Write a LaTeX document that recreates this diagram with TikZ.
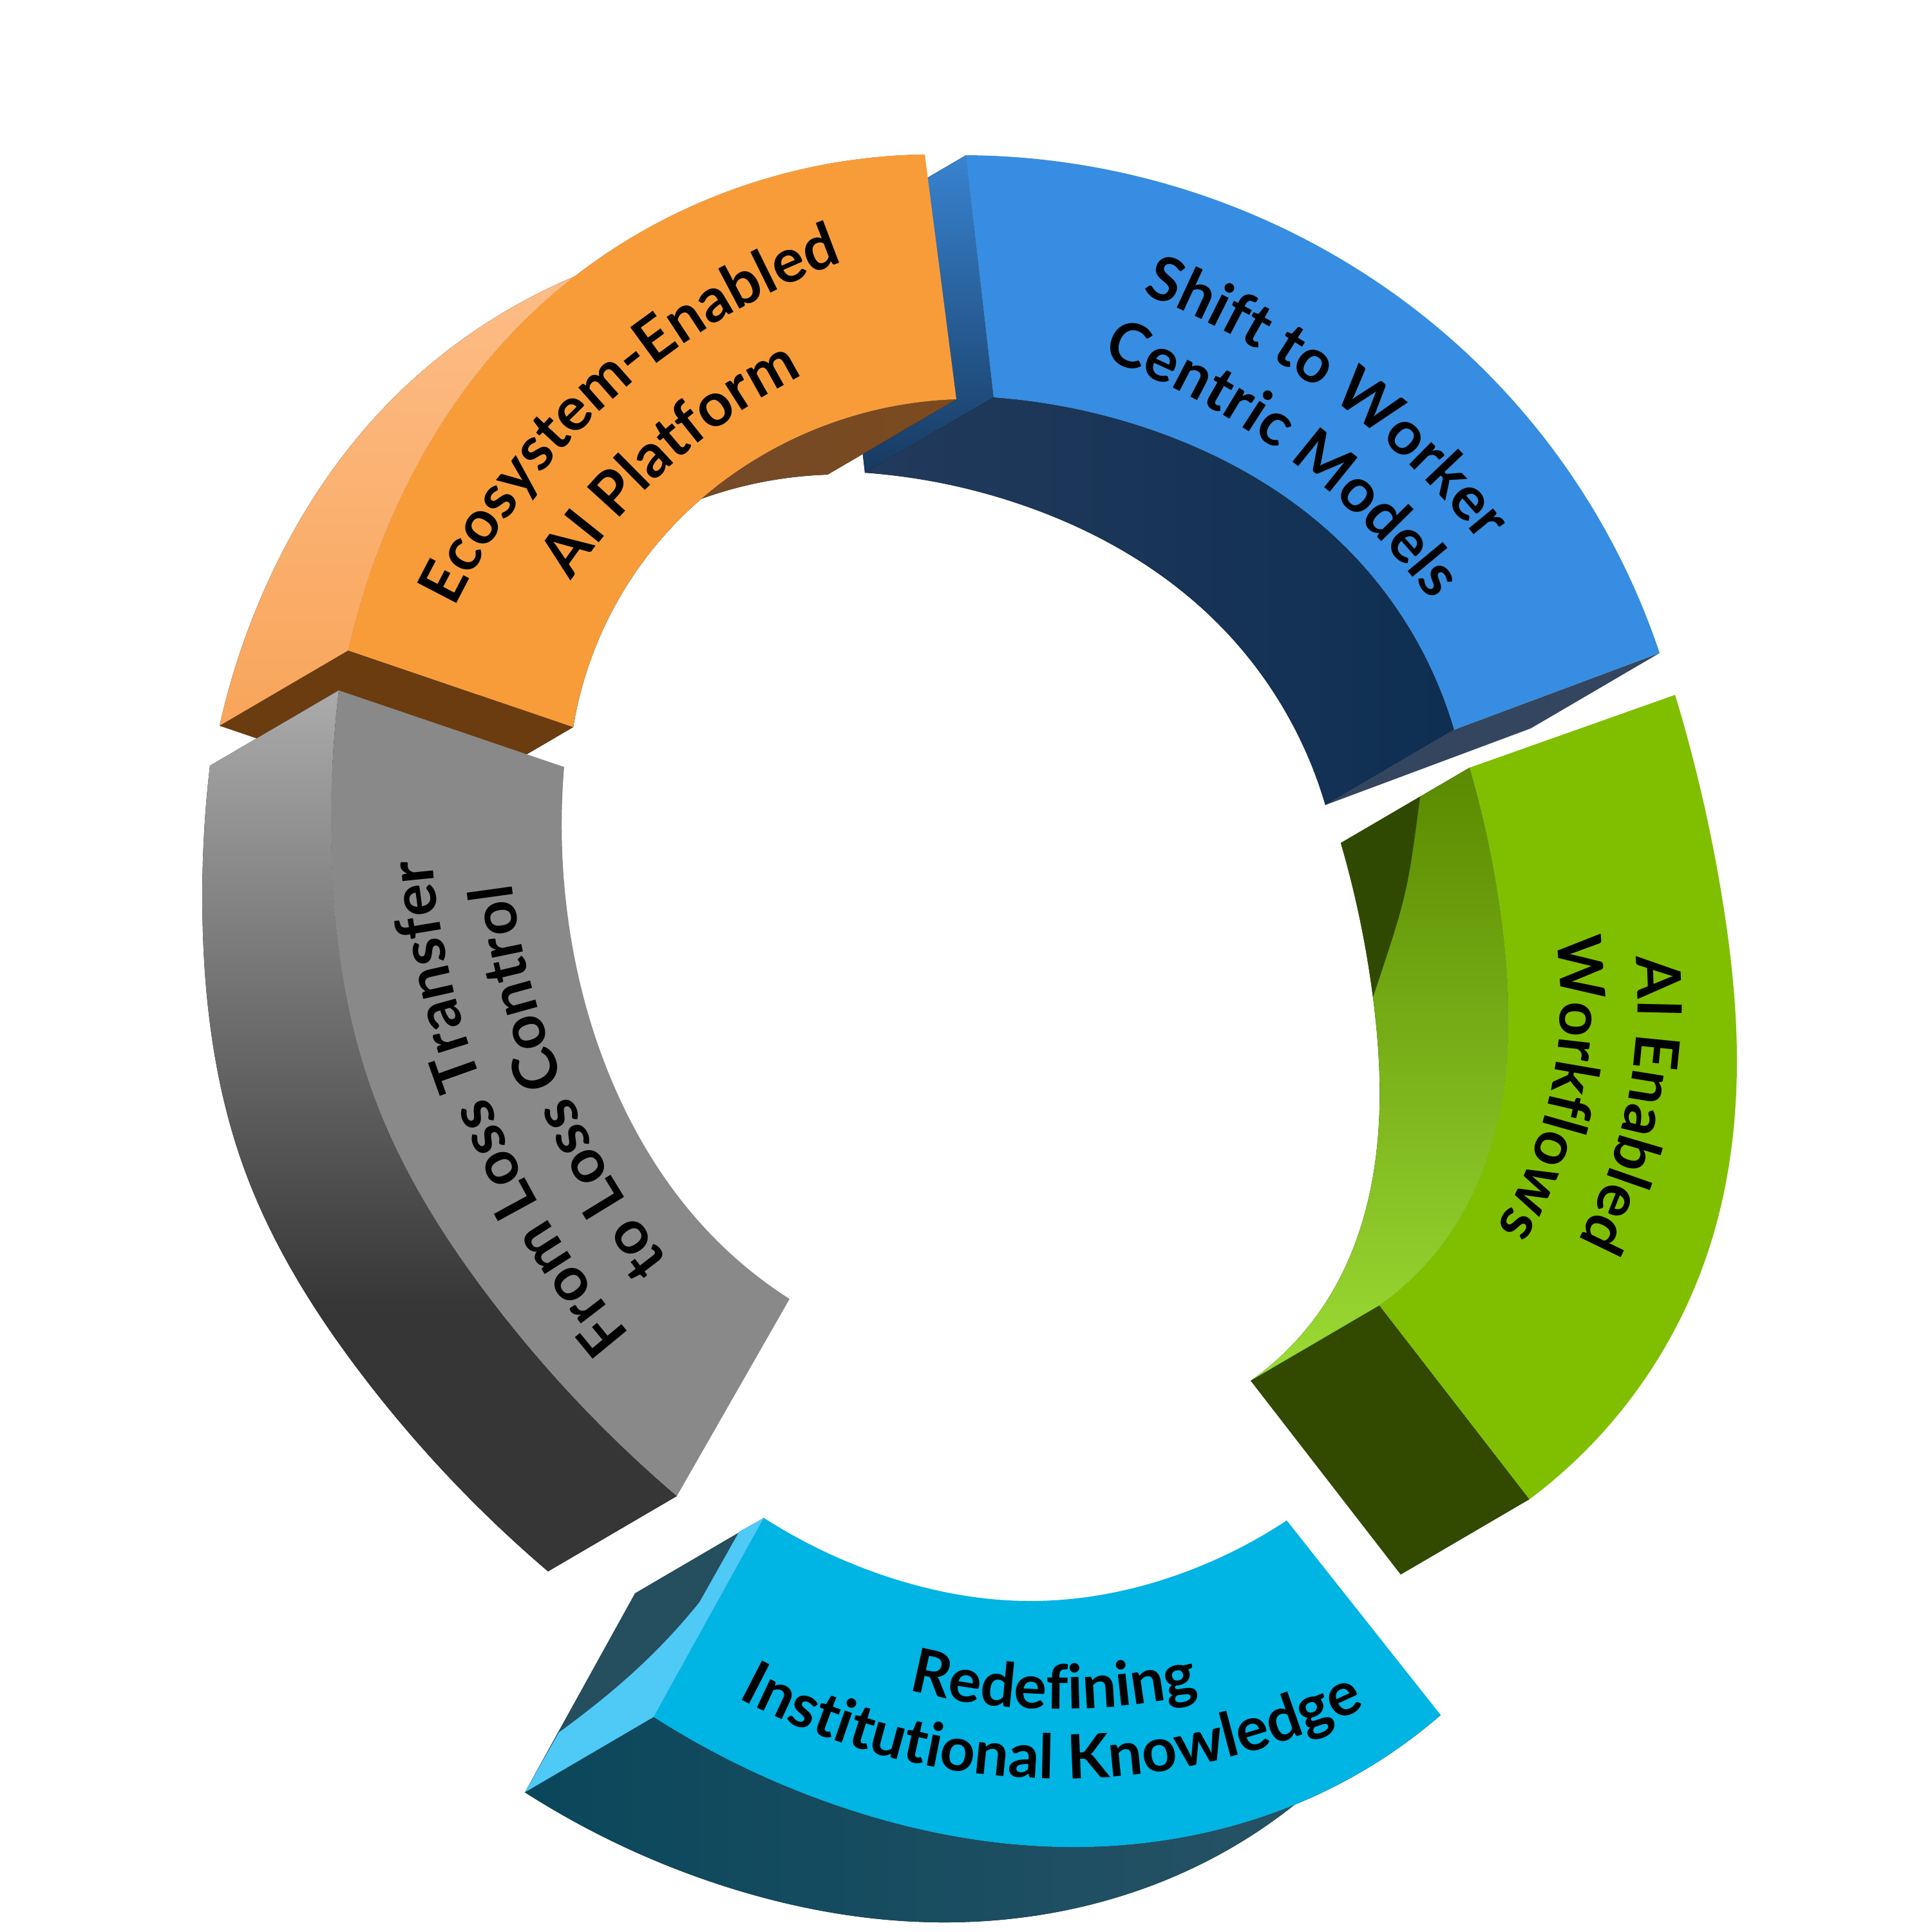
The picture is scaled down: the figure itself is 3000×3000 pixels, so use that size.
\documentclass[tikz,border=0pt]{standalone}
\usepackage{fontspec}
\newfontfamily\ringfont{Lato}
\usetikzlibrary{calc,hobby,decorations.text}

\definecolor{ecotop}{HTML}{F89C3A}
\definecolor{ecowallA}{HTML}{FDC393}
\definecolor{ecowallB}{HTML}{F9A55A}
\definecolor{ecoinA}{HTML}{6B4B31}
\definecolor{ecoinB}{HTML}{7C4A1E}
\definecolor{ecocap}{HTML}{6A3C10}
\definecolor{shifttop}{HTML}{378DE1}
\definecolor{shiftcapA}{HTML}{3883D0}
\definecolor{shiftcapB}{HTML}{173A60}
\definecolor{shiftinA}{HTML}{223A5B}
\definecolor{shiftinB}{HTML}{0E2F52}
\definecolor{shiftcap}{HTML}{34465F}
\definecolor{flowtop}{HTML}{80BF00}
\definecolor{flowinA}{HTML}{5A8A00}
\definecolor{flowinB}{HTML}{9CDC35}
\definecolor{flowdark}{HTML}{2F4A00}
\definecolor{flowcap}{HTML}{314A00}
\definecolor{losstop}{HTML}{898989}
\definecolor{losswallA}{HTML}{ABABAB}
\definecolor{losswallM}{HTML}{6C6C6C}
\definecolor{losswallB}{HTML}{363636}
\definecolor{knowtop}{HTML}{00B4E4}
\definecolor{knowwallA}{HTML}{0A475B}
\definecolor{knowwallB}{HTML}{2C5467}
\definecolor{knowcap}{HTML}{254E5F}
\definecolor{knowedge}{HTML}{4FC9F5}

\pgfdeclareverticalshading{losswall}{100bp}{color(0bp)=(losswallB); color(40bp)=(losswallB);
  color(56bp)=(losswallM); color(75bp)=(losswallA); color(100bp)=(losswallA)}

\tikzset{
  ringtext/.style={decorate,decoration={text along path,text align=center,
      text={|\ringfont\bfseries\fontsize{27}{27}\selectfont|#1}}},
}
% text line on a circular arc: cx, cy, radius, middle angle, half span, text
\newcommand\ringline[6]{\path[ringtext={#6}] plot[domain=-1:1,samples=121]
  ({#1+#3*cos(#4+(#5)*\x)},{#2+#3*sin(#4+(#5)*\x)});}

\begin{document}
\begin{tikzpicture}[x=0.01cm,y=-0.01cm]
\useasboundingbox (0,0) rectangle (3000,3000);
\fill[white] (0,0) rectangle (3000,3000);
\coordinate (dv) at (-200,117);

% edge points of the five pieces
\foreach \n/\px/\py in {1/541/1010,2/614/791,3/802/510,4/1100/309,5/1436/240} \coordinate (eco-o\n) at (\px,\py);
\foreach \n/\px/\py in {1/890/1129,2/1000/870,3/1170/715,4/1485/620} \coordinate (eco-i\n) at (\px,\py);
\foreach \n/\px/\py in {1/1500/241,2/1900/315,3/2300/570,4/2577/1014} \coordinate (shift-o\n) at (\px,\py);
\foreach \n/\px/\py in {1/1543/617,2/1790/668,3/2090/850,4/2258/1133} \coordinate (shift-i\n) at (\px,\py);
\foreach \n/\px/\py in {1/2601/1079,2/2675/1400,3/2697/1650,4/2650/1950,5/2375/2328} \coordinate (flow-o\n) at (\px,\py);
\foreach \n/\px/\py in {1/2282/1192,2/2333/1440,3/2335/1690,4/2262/1900,5/2142/2027} \coordinate (flow-i\n) at (\px,\py);
\foreach \n/\px/\py in {1/526/1072,2/515/1330,3/580/1700,4/760/2015,5/1051/2323} \coordinate (loss-o\n) at (\px,\py);
\foreach \n/\px/\py in {1/876/1191,2/884/1440,3/955/1690,4/1102/1915,5/1226/2017} \coordinate (loss-i\n) at (\px,\py);
\foreach \n/\px/\py in {1/1015/2666,2/1316/2809,3/1663/2868,4/2074/2773,5/2237/2663} \coordinate (know-o\n) at (\px,\py);
\foreach \n/\px/\py in {1/1186/2357,2/1380/2449,3/1596/2486,4/1835/2443,5/1998/2361} \coordinate (know-i\n) at (\px,\py);

% the same points pushed back along the depth
\foreach \s/\no/\ni in {eco/5/4,shift/4/4,flow/5/5,loss/5/5,know/5/5} {
  \foreach \n in {1,...,\no} \coordinate (\s-o\n-s) at ($(\s-o\n)+(dv)$);
  \foreach \n in {1,...,\ni} \coordinate (\s-i\n-s) at ($(\s-i\n)+(dv)$);
}

% side walls and end caps
\fill[top color=shiftcapA,bottom color=shiftcapB] (shift-o1) -- (shift-i1) -- (shift-i1-s) -- (shift-o1-s) -- cycle;

\fill[top color=ecowallA,bottom color=ecowallB] (eco-o1) to[curve through={(eco-o2) (eco-o3) (eco-o4)}] (eco-o5)
  -- (eco-o5-s) to[curve through={(eco-o4-s) (eco-o3-s) (eco-o2-s)}] (eco-o1-s) -- cycle;
\fill[left color=ecoinA,right color=ecoinB] (eco-i1) to[curve through={(eco-i2) (eco-i3)}] (eco-i4)
  -- (eco-i4-s) to[curve through={(eco-i3-s) (eco-i2-s)}] (eco-i1-s) -- cycle;
\fill[ecocap] (eco-o1) -- (eco-i1) -- (eco-i1-s) -- (eco-o1-s) -- cycle;

\fill[left color=shiftinA,right color=shiftinB] (shift-i1) to[curve through={(shift-i2) (shift-i3)}] (shift-i4)
  -- (shift-i4-s) to[curve through={(shift-i3-s) (shift-i2-s)}] (shift-i1-s) -- cycle;
\fill[shiftcap] (shift-o4) -- (shift-i4) -- (shift-i4-s) -- (shift-o4-s) -- cycle;

\fill[top color=flowinA,bottom color=flowinB] (flow-i1) to[curve through={(flow-i2) (flow-i3) (flow-i4)}] (flow-i5)
  -- (flow-i5-s) to[curve through={(flow-i4-s) (flow-i3-s) (flow-i2-s)}] (flow-i1-s) -- cycle;
\begin{scope}
  \clip (flow-i1) to[curve through={(flow-i2) (flow-i3) (flow-i4)}] (flow-i5)
    -- (flow-i5-s) to[curve through={(flow-i4-s) (flow-i3-s) (flow-i2-s)}] (flow-i1-s) -- cycle;
  \fill[flowdark] (2205,1238) .. controls (2185,1390) .. (2128,1560) -- (1950,1600) -- (1950,1200) -- cycle;
\end{scope}
\fill[flowcap] (flow-o5) -- (flow-i5) -- (flow-i5-s) -- (flow-o5-s) -- cycle;

\fill[shading=losswall] (loss-o1) to[curve through={(loss-o2) (loss-o3) (loss-o4)}] (loss-o5)
  -- (loss-o5-s) to[curve through={(loss-o4-s) (loss-o3-s) (loss-o2-s)}] (loss-o1-s) -- cycle;

\fill[left color=knowwallA,right color=knowwallB] (know-o1) to[curve through={(know-o2) (know-o3) (know-o4)}] (know-o5)
  -- (know-o5-s) to[curve through={(know-o4-s) (know-o3-s) (know-o2-s)}] (know-o1-s) -- cycle;
\fill[knowcap] (know-i1) -- (know-o1) -- (know-o1-s) -- (know-i1-s) -- cycle;
\fill[knowedge] (1148,2378) -- (1086,2488) .. controls (1020,2570) and (950,2630) .. (868,2690)
  -- (know-o1-s) -- (know-o1) -- (know-i1) -- cycle;

% front faces
\fill[ecotop] (eco-o1) to[curve through={(eco-o2) (eco-o3) (eco-o4)}] (eco-o5)
  -- (eco-i4) to[curve through={(eco-i3) (eco-i2)}] (eco-i1) -- cycle;
\fill[shifttop] (shift-o1) to[curve through={(shift-o2) (shift-o3)}] (shift-o4)
  -- (shift-i4) to[curve through={(shift-i3) (shift-i2)}] (shift-i1) -- cycle;
\fill[flowtop] (flow-o1) to[curve through={(flow-o2) (flow-o3) (flow-o4)}] (flow-o5)
  -- (flow-i5) to[curve through={(flow-i4) (flow-i3) (flow-i2)}] (flow-i1) -- cycle;
\fill[losstop] (loss-o1) to[curve through={(loss-o2) (loss-o3) (loss-o4)}] (loss-o5)
  -- (loss-i5) to[curve through={(loss-i4) (loss-i3) (loss-i2)}] (loss-i1) -- cycle;
\fill[knowtop] (know-o1) to[curve through={(know-o2) (know-o3) (know-o4)}] (know-o5)
  -- (know-i5) to[curve through={(know-i4) (know-i3) (know-i2)}] (know-i1) -- cycle;

% labels
\ringline{1676}{1428}{1085}{228.4}{35}{Ecosystem-Enabled}
\ringline{1676}{1428}{948}{228.4}{35}{AI Platform}
\ringline{1320}{1623}{1252}{306.4}{28}{Shift to Worker}
\ringline{1320}{1623}{1137}{306.4}{28}{Centric Models}
\ringline{1742}{1553}{801}{11.5}{40}{AI Enabled}
\ringline{1742}{1553}{681}{11.5}{40}{Workflows}
\ringline{1977}{1223}{1311}{157.4}{30}{From Loss Transfer}
\ringline{1977}{1223}{1192}{157.4}{30}{to Loss Control}
\ringline{1646}{1698}{956}{90.6}{-30}{Redefining}
\ringline{1646}{1698}{1064}{90.8}{-40}{Institutional Knowledge}
\end{tikzpicture}
\end{document}
